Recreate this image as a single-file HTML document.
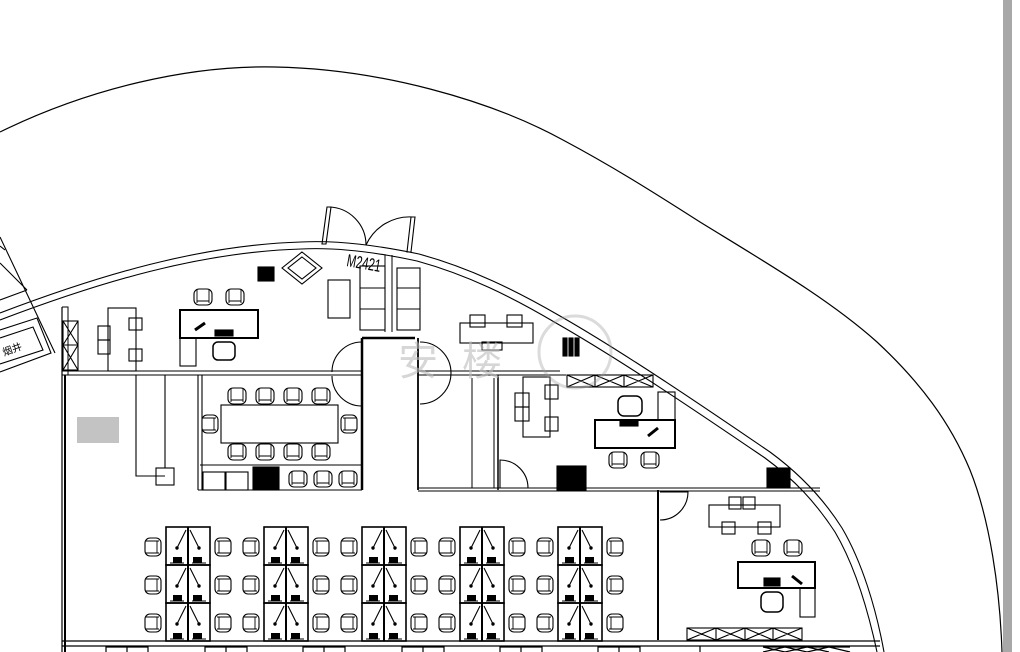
<!DOCTYPE html>
<html><head><meta charset="utf-8"><style>
html,body{margin:0;padding:0;background:#fff;}
svg{display:block;}
</style></head><body>
<svg width="1020" height="652" viewBox="0 0 1020 652" xmlns="http://www.w3.org/2000/svg" font-family="Liberation Sans, Noto Sans CJK SC, sans-serif">
<defs>
<g id="ch"><rect x="-9" y="-8" width="18" height="16" rx="5" fill="#fff" stroke="#000" stroke-width="1.1"/><path d="M-6,-8 V6 M6,-8 V6 M-6,4 H6" stroke="#000" stroke-width="0.9" fill="none"/></g>
<g id="chv"><rect x="-8" y="-9" width="16" height="18" rx="5" fill="#fff" stroke="#000" stroke-width="1.1"/><path d="M-8,-6 H6 M-8,6 H6 M4,-6 V6" stroke="#000" stroke-width="0.9" fill="none"/></g>
<g id="chr"><rect x="-8" y="-9" width="16" height="18" rx="5" fill="#fff" stroke="#000" stroke-width="1.1"/><path d="M-6,-6 H8 M-6,6 H8 M-4,-6 V6" stroke="#000" stroke-width="0.9" fill="none"/></g>
<g id="cell" stroke="#000" fill="none">
<rect x="0" y="0" width="44" height="38" stroke-width="1.6"/>
<path d="M22,0 V38" stroke-width="2"/>
<path d="M20,3 L11,21 M24,3 L33,21" stroke-width="1.1"/>
<circle cx="11" cy="21" r="1.2" fill="#000"/><circle cx="33" cy="21" r="1.2" fill="#000"/>
<rect x="7" y="30" width="9" height="6" fill="#000" stroke="none"/><rect x="27" y="30" width="9" height="6" fill="#000" stroke="none"/>
<path d="M4,36 H18 M26,36 H40" stroke-width="1"/>
</g>
<g id="cl">
<use href="#cell" x="0" y="0"/><use href="#cell" x="0" y="38"/><use href="#cell" x="0" y="76"/>
<use href="#chv" x="-13" y="20"/><use href="#chv" x="-13" y="58"/><use href="#chv" x="-13" y="96"/>
<use href="#chr" x="57" y="20"/><use href="#chr" x="57" y="58"/><use href="#chr" x="57" y="96"/>
</g>
</defs>

<rect x="1003" y="0" width="9" height="652" fill="#a8a8a8"/>

<!-- outer curve -->
<path d="M0,132 C90,88 190,65 275,67 C380,69 490,100 563,140 C610,165 650,190 700,222 C770,265 830,300 877,342 C920,382 950,422 970,470 C990,520 1000,590 1002,652" fill="none" stroke="#000" stroke-width="1.2"/>

<!-- building wall (double) -->
<g fill="none" stroke="#000" stroke-width="1.1">
<path d="M0,313 C100,275 200,245 301,242 C340,240 380,246 419,254 C470,268 515,290 560,316 C630,356 720,418 770,452 C800,474 823,498 842,528 C862,562 876,608 884,652"/>
<path d="M0,320 C100,282 200,252 301,249 C340,247 380,253 417,261 C468,275 512,297 556,323 C626,363 715,424 765,458 C795,480 816,503 835,532 C855,566 868,610 877,652"/>
</g>

<!-- top-left shaft -->
<g fill="none" stroke="#000" stroke-width="1.1">
<path d="M0,237 L55,353 M0,263 L27,290 M0,300 L27,290 M0,246 L5,250"/>
<path d="M0,330 L37,318 L51,353 L0,372"/>
<path d="M0,338 L33,327 L43,350 L0,364"/>
<text x="4" y="356" font-size="10" fill="#000" stroke="none" transform="rotate(-20 4 356)">烟井</text>
</g>

<!-- doors top -->
<g fill="none" stroke="#000" stroke-width="1.1">
<path d="M322,244 L327,207 L331,207 L326,244 Z"/>
<path d="M329,207 A38,38 0 0 1 366,245"/>
<path d="M407,252 L411,217 L415,217 L411,252 Z"/>
<path d="M413,217 A48,48 0 0 0 366,245"/>
</g>
<text x="0" y="0" font-size="14" transform="translate(346,266) rotate(10) scale(0.8,1.25)" fill="#000">M2421</text>

<!-- interior walls -->
<g fill="none" stroke="#000">
<path d="M62,307 V652" stroke-width="1.2"/>
<path d="M65,375 V652" stroke-width="2"/>
<path d="M62,307 H68 V375" stroke-width="1"/>
<path d="M62,371 H362 M62,375 H362" stroke-width="1.1"/>
<path d="M362,338 V490" stroke-width="2.5"/>
<path d="M362,338 H415" stroke-width="2.5"/>
<path d="M418,338 V490" stroke-width="1.8"/>
<path d="M418,371 H560 M418,375 H566" stroke-width="1.1"/>
<path d="M498,375 V490" stroke-width="1.5"/>
<path d="M472,378 V488 M494,378 V488" stroke-width="1"/>
<path d="M418,488 H820 M418,491 H820" stroke-width="1.1"/>
<path d="M658,490 V640" stroke-width="2"/>
<path d="M198,375 V490 M202,375 V490 M198,490 H362" stroke-width="1.1"/>
<path d="M200,465 H362" stroke-width="1"/>
<path d="M62,641 H880 M62,646 H880" stroke-width="1.2"/>
<path d="M385,255 V332 M392,255 V332" stroke-width="1"/>
</g>

<!-- door arcs -->
<g fill="none" stroke="#000" stroke-width="1.1">
<path d="M332,372 A30,30 0 0 1 362,342 M332,376 A30,30 0 0 0 362,406"/>
<path d="M420,342 A31,31 0 0 1 420,404"/>
<path d="M500,488 V460 A28,28 0 0 1 528,488"/>
<path d="M660,492 H688 A28,28 0 0 1 660,520"/>
</g>

<!-- top-left office furniture -->
<g fill="none" stroke="#000" stroke-width="1.1">
<rect x="258" y="267" width="16" height="14" fill="#000"/>
<path d="M302,252 L322,268 L302,284 L282,268 Z M302,257 L316,268 L302,279 L288,268 Z"/>
<rect x="328" y="280" width="22" height="38"/>
<rect x="360" y="266" width="25" height="64"/><path d="M360,288 H385 M360,309 H385"/>
<rect x="397" y="268" width="23" height="62"/><path d="M397,288 H420 M397,309 H420"/>
<rect x="180" y="310" width="78" height="28" stroke-width="2"/>
<rect x="180" y="338" width="16" height="28"/>
<rect x="215" y="330" width="18" height="6" fill="#000"/>
<path d="M195,330 L205,323" stroke-width="3"/>
<rect x="108" y="308" width="28" height="63"/>
<rect x="98" y="326" width="12" height="14"/><rect x="98" y="340" width="12" height="14"/>
<rect x="129" y="318" width="13" height="12"/><rect x="129" y="349" width="13" height="12"/>
<rect x="63" y="321" width="15" height="49"/><path d="M63,321 L78,345 M78,321 L63,345 M63,345 L78,370 M78,345 L63,370 M63,345 H78"/>
<path d="M136,375 V476 H165 M165,375 V468"/>
<rect x="156" y="468" width="18" height="17"/>
</g>
<use href="#ch" x="203" y="297"/><use href="#ch" x="235" y="297"/>
<rect x="213" y="342" width="22" height="18" rx="5" fill="#fff" stroke="#000" stroke-width="1.5"/>
<rect x="77" y="417" width="42" height="26" fill="#aaa" opacity="0.7"/>

<!-- meeting room -->
<g fill="none" stroke="#000" stroke-width="1.1">
<rect x="221" y="405" width="117" height="38"/>
<rect x="203" y="472" width="22" height="18"/><rect x="226" y="472" width="22" height="18"/>
<rect x="253" y="467" width="26" height="23" fill="#000"/>
</g>
<use href="#ch" x="237" y="396"/><use href="#ch" x="265" y="396"/><use href="#ch" x="293" y="396"/><use href="#ch" x="321" y="396"/>
<use href="#ch" x="237" y="452"/><use href="#ch" x="265" y="452"/><use href="#ch" x="293" y="452"/><use href="#ch" x="321" y="452"/>
<use href="#chv" x="210" y="424"/><use href="#chr" x="349" y="424"/>
<use href="#ch" x="298" y="479"/><use href="#ch" x="323" y="479"/><use href="#ch" x="348" y="479"/>

<!-- right office -->
<g fill="none" stroke="#000" stroke-width="1.1">
<rect x="460" y="323" width="73" height="20"/>
<rect x="470" y="315" width="15" height="12"/><rect x="507" y="315" width="15" height="12"/>
<rect x="482" y="342" width="20" height="8"/>
<rect x="563" y="338" width="4" height="18" fill="#000"/><rect x="569" y="338" width="4" height="18" fill="#000"/><rect x="575" y="338" width="4" height="18" fill="#000"/>
<rect x="567" y="375" width="86" height="12"/>
<path d="M567,375 L595,387 M595,375 L567,387 M595,375 V387 M595,375 L624,387 M624,375 L595,387 M624,375 V387 M624,375 L653,387 M653,375 L624,387"/>
<rect x="523" y="377" width="27" height="60"/>
<rect x="515" y="393" width="14" height="14"/><rect x="515" y="407" width="14" height="14"/>
<rect x="545" y="385" width="13" height="14"/><rect x="545" y="417" width="13" height="14"/>
<rect x="595" y="420" width="80" height="28" stroke-width="2"/>
<rect x="658" y="392" width="17" height="28"/>
<rect x="620" y="420" width="18" height="6" fill="#000"/>
<path d="M648,436 L658,428" stroke-width="3"/>
<rect x="557" y="466" width="29" height="24" fill="#000"/>
<rect x="767" y="468" width="23" height="20" fill="#000"/>
</g>
<rect x="618" y="396" width="24" height="20" rx="6" fill="#fff" stroke="#000" stroke-width="1.5"/>
<use href="#ch" x="618" y="460"/><use href="#ch" x="650" y="460"/>

<!-- bottom-right office -->
<g fill="none" stroke="#000" stroke-width="1.1">
<rect x="709" y="505" width="71" height="22"/>
<rect x="729" y="497" width="12" height="12"/><rect x="743" y="497" width="12" height="12"/>
<rect x="722" y="522" width="13" height="12"/><rect x="758" y="522" width="13" height="12"/>
<rect x="738" y="562" width="77" height="26" stroke-width="2"/>
<rect x="800" y="588" width="15" height="29"/>
<rect x="764" y="578" width="16" height="8" fill="#000"/>
<path d="M792,576 L802,584" stroke-width="3"/>
<rect x="687" y="628" width="115" height="12"/>
<path d="M687,628 L716,640 M716,628 L687,640 M716,628 V640 M716,628 L745,640 M745,628 L716,640 M745,628 V640 M745,628 L773,640 M773,628 L745,640 M773,628 V640 M773,628 L802,640 M802,628 L773,640"/>
</g>
<use href="#ch" x="761" y="548"/><use href="#ch" x="793" y="548"/>
<rect x="761" y="592" width="22" height="20" rx="6" fill="#fff" stroke="#000" stroke-width="1.5"/>

<!-- cubicle clusters -->
<use href="#cl" x="166" y="527"/>
<use href="#cl" x="264" y="527"/>
<use href="#cl" x="362" y="527"/>
<use href="#cl" x="460" y="527"/>
<use href="#cl" x="558" y="527"/>

<!-- bottom partial row -->
<g fill="none" stroke="#000" stroke-width="1.2">
<path d="M106,652 V647 H148 V652 M127,647 V652"/>
<path d="M205,652 V647 H247 V652 M226,647 V652"/>
<path d="M303,652 V647 H345 V652 M324,647 V652"/>
<path d="M402,652 V647 H444 V652 M423,647 V652"/>
<path d="M500,652 V647 H542 V652 M521,647 V652"/>
<path d="M598,652 V647 H640 V652 M619,647 V652"/>
<path d="M700,646 V652"/>
<path d="M763,647 H850 M763,647 L785,652 M785,647 L763,652 M785,647 L807,652 M807,647 L785,652 M807,647 L829,652 M829,647 L807,652 M829,647 L850,652"/>
</g>

<!-- watermark -->
<g opacity="0.35" fill="none" stroke="#999" stroke-width="3">
<circle cx="575" cy="352" r="36"/>
</g>
<text x="398" y="375" font-size="40" fill="#bbb" opacity="0.6">安</text>
<text x="462" y="375" font-size="40" fill="#bbb" opacity="0.6">楼</text>
</svg>
</body></html>
